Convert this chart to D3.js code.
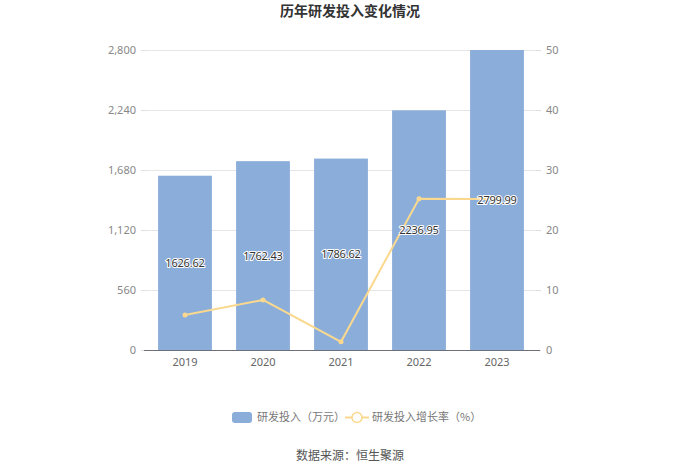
<!DOCTYPE html>
<html><head><meta charset="utf-8">
<script src="https://cdn.jsdelivr.net/npm/d3@7"></script>
<style>body{margin:0;background:#fff;font-family:"Noto Sans CJK SC","Noto Sans",sans-serif;}</style>
</head><body><svg id="c" width="700" height="473"></svg>
<script>
const years = ["2019","2020","2021","2022","2023"];
const rdSpend = [1626.62, 1762.43, 1786.62, 2236.95, 2799.99];
const growthRate = [5.83, 8.35, 1.37, 25.21, 25.17];
const leftTicks = [0, 560, 1120, 1680, 2240, 2800];
const rightTicks = [0, 10, 20, 30, 40, 50];

const svg = d3.select("#c");
const m = {l:146, r:536, t:50, b:350};
const x = d3.scaleBand().domain(years).range([m.l, m.r]).paddingInner(0.31).paddingOuter(0.155);
const xc = d3.scalePoint().domain(years).range([m.l, m.r]).padding(0.5);
const yL = d3.scaleLinear().domain([0, 2800]).range([m.b, m.t]);
const yR = d3.scaleLinear().domain([0, 50]).range([m.b, m.t]);

svg.append("text").attr("x",350).attr("y",16).attr("text-anchor","middle")
  .attr("font-size",14).attr("font-weight","bold").attr("fill","#333").text("历年研发投入变化情况");

// grid
svg.append("g").selectAll("line").data(leftTicks.slice(1)).join("line")
  .attr("x1",m.l).attr("x2",m.r+4).attr("y1",d=>yL(d)+0.5).attr("y2",d=>yL(d)+0.5)
  .attr("stroke","#e6e6e6");

// left axis
const gl = svg.append("g").attr("transform",`translate(${m.l},0)`)
  .call(d3.axisLeft(yL).tickValues(leftTicks).tickFormat(d3.format(",")).tickSize(5).tickPadding(5));
gl.select(".domain").remove();
gl.selectAll(".tick line").attr("stroke","#e0e0e0");
gl.selectAll("text").attr("fill","#888").attr("font-size",11).attr("font-family","'Noto Sans',sans-serif");

// right axis
const gr = svg.append("g").attr("transform",`translate(${m.r},0)`)
  .call(d3.axisRight(yR).tickValues(rightTicks).tickSize(5).tickPadding(5));
gr.select(".domain").remove();
gr.selectAll(".tick line").attr("stroke","#e0e0e0");
gr.selectAll("text").attr("fill","#888").attr("font-size",11).attr("font-family","'Noto Sans',sans-serif");

// bars
svg.append("g").selectAll("rect").data(years).join("rect")
  .attr("x",d=>x(d)).attr("width",x.bandwidth())
  .attr("y",(d,i)=>yL(rdSpend[i])).attr("height",(d,i)=>m.b-yL(rdSpend[i]))
  .attr("fill","#8badda");

// x axis
const gx = svg.append("g").attr("transform",`translate(0,${m.b})`)
  .call(d3.axisBottom(x).tickSize(0).tickPadding(8));
gx.select(".domain").attr("stroke","#6e7079").attr("d",`M${m.l-2},0.5H${m.r+4}`);
gx.selectAll("text").attr("fill","#666").attr("font-size",11).attr("font-family","'Noto Sans',sans-serif");

// line
const lineGen = d3.line().x((d,i)=>xc(years[i])).y(d=>yR(d));
svg.append("path").datum(growthRate).attr("d",lineGen).attr("fill","none")
  .attr("stroke","#fad98f").attr("stroke-width",2);
svg.append("g").selectAll("circle").data(growthRate).join("circle")
  .attr("cx",(d,i)=>xc(years[i])).attr("cy",d=>yR(d)).attr("r",2.5)
  .attr("fill","#fad98f");

// bar labels
svg.append("g").selectAll("text").data(rdSpend).join("text")
  .attr("x",(d,i)=>xc(years[i])).attr("y",d=>(yL(d)+m.b)/2+4)
  .attr("text-anchor","middle").attr("font-size",11).attr("font-family","'Noto Sans',sans-serif")
  .attr("fill","#333").attr("stroke","#fff").attr("stroke-width",2).attr("paint-order","stroke")
  .attr("letter-spacing",-0.2)
  .text(d=>d.toFixed(2));

// legend
const lg = svg.append("g");
lg.append("rect").attr("x",232).attr("y",412).attr("width",20).attr("height",11).attr("rx",3).attr("fill","#8badda");
lg.append("text").attr("x",257).attr("y",421).attr("font-size",11).attr("fill","#777").text("研发投入（万元）");
lg.append("line").attr("x1",345).attr("x2",369).attr("y1",417.5).attr("y2",417.5).attr("stroke","#fad98f").attr("stroke-width",2);
lg.append("circle").attr("cx",357).attr("cy",417.5).attr("r",5).attr("fill","#fff").attr("stroke","#fad98f").attr("stroke-width",1.5);
lg.append("text").attr("x",372).attr("y",421).attr("font-size",11).attr("fill","#777").text("研发投入增长率（%）");

svg.append("text").attr("x",350).attr("y",460).attr("text-anchor","middle")
  .attr("font-size",12).attr("fill","#555").text("数据来源：恒生聚源");
</script></body></html>
